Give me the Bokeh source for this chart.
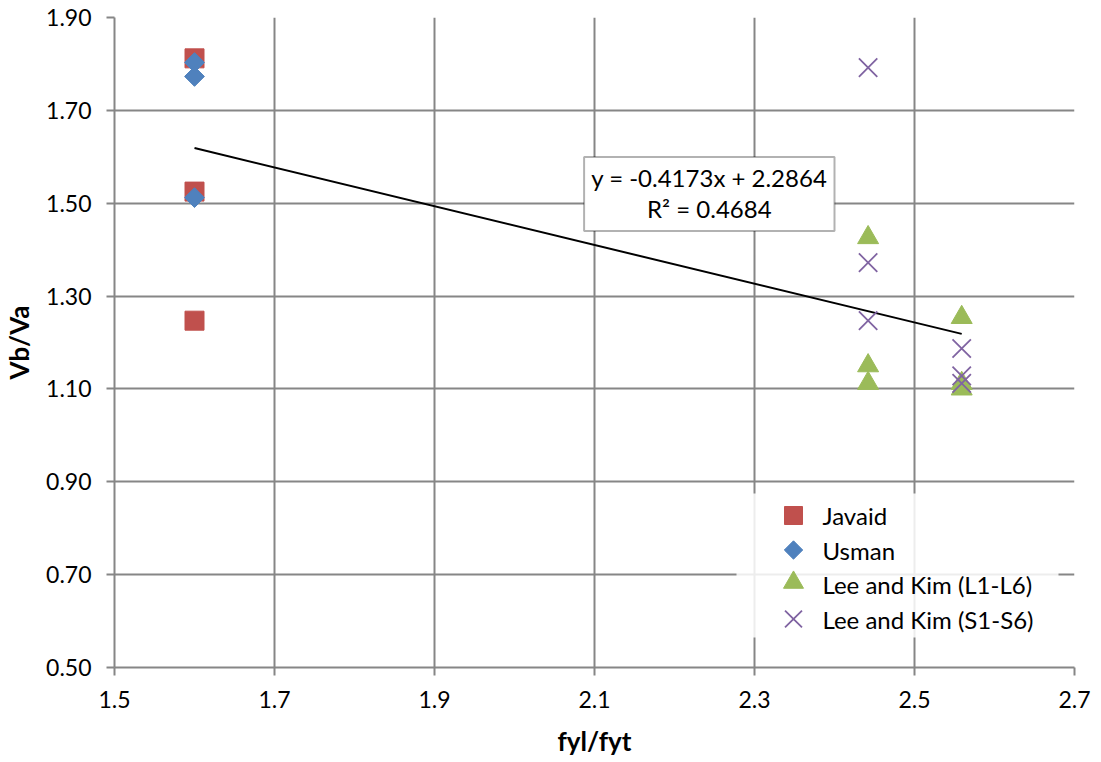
import math
from bokeh.plotting import figure
from bokeh.models import (Range1d, FixedTicker, Label, BoxAnnotation,
                          CustomJSTickFormatter)
from bokeh.embed import file_html
from bokeh.resources import INLINE

# ---- data ----
javaid_x = [1.6, 1.6, 1.6]
javaid_y = [1.812, 1.525, 1.247]
usman_x = [1.6, 1.6, 1.6]
usman_y = [1.803, 1.773, 1.512]
leeL_x = [2.442, 2.442, 2.442, 2.559, 2.559, 2.559]
leeL_y = [1.426, 1.150, 1.112, 1.254, 1.112, 1.100]
leeS_x = [2.442, 2.442, 2.442, 2.559, 2.559, 2.559]
leeS_y = [1.792, 1.372, 1.247, 1.187, 1.128, 1.112]
trend_slope = -0.4173
trend_intercept = 2.2864
trend_r2 = 0.4684
x_ticks = [1.5, 1.7, 1.9, 2.1, 2.3, 2.5, 2.7]
y_ticks = [0.5, 0.7, 0.9, 1.1, 1.3, 1.5, 1.7, 1.9]
series_names = ["Javaid", "Usman", "Lee and Kim (L1-L6)", "Lee and Kim (S1-S6)"]

FONT = "Lato"
GRID = "#868686"
C_J, C_U, C_L, C_S = "#C0504D", "#4F81BD", "#9BBB59", "#8064A2"
FW, FH = 960, 650

p = figure(frame_width=FW, frame_height=FH,
           x_range=Range1d(1.5, 2.7), y_range=Range1d(0.5, 1.9),
           output_backend="svg", toolbar_location=None,
           min_border_left=108, min_border_right=17, min_border_top=17,
           min_border_bottom=60)
p.outline_line_color = None
p.background_fill_color = "white"
p.border_fill_color = "white"

for ax in (p.xaxis[0], p.yaxis[0]):
    ax.axis_line_color = GRID
    ax.axis_line_width = 2
    ax.major_tick_line_color = GRID
    ax.major_tick_line_width = 2
    ax.major_tick_in = 0
    ax.major_tick_out = 8
    ax.minor_tick_line_color = None
    ax.major_label_text_font = FONT
    ax.major_label_text_font_size = "23px"
    ax.major_label_text_color = "black"
    ax.axis_label_text_font = FONT
    ax.axis_label_text_font_style = "bold"
    ax.axis_label_text_font_size = "26px"
    ax.axis_label_text_color = "black"

p.xaxis.ticker = FixedTicker(ticks=x_ticks)
p.yaxis.ticker = FixedTicker(ticks=y_ticks)
p.xaxis.formatter = CustomJSTickFormatter(code="return tick.toFixed(1);")
p.yaxis.formatter = CustomJSTickFormatter(code="return tick.toFixed(2);")
p.xaxis.axis_label = "fyl/fyt"
p.yaxis.axis_label = "Vb/Va"
p.xaxis.major_label_standoff = 15
p.yaxis.major_label_standoff = 15
p.xaxis.axis_label_standoff = 14
p.yaxis.axis_label_standoff = 8

p.xgrid.ticker = FixedTicker(ticks=x_ticks)
p.ygrid.ticker = FixedTicker(ticks=y_ticks)
for g in (p.xgrid[0], p.ygrid[0]):
    g.grid_line_color = GRID
    g.grid_line_width = 2

# ---- legend background (screen-pixel range of the frame), below the glyphs ----
p.extra_x_ranges["px"] = Range1d(0, FW)
p.extra_y_ranges["px"] = Range1d(0, FH)
LEG_LEFT, LEG_TOP, LEG_W, LEG_H = 622, 476, 322, 144   # px from frame left / top
ROW0, ROW_STEP = 22, 34.5
SYM_X, TXT_X = 57, 86
leg_bg = BoxAnnotation(left=LEG_LEFT, right=LEG_LEFT + LEG_W,
                       top=FH - LEG_TOP, bottom=FH - LEG_TOP - LEG_H,
                       x_range_name="px", y_range_name="px",
                       fill_color="white", fill_alpha=0.85, line_color=None,
                       level="underlay")
p.add_layout(leg_bg)

# trendline (from the fitted coefficients, over the data's x span)
all_x = javaid_x + usman_x + leeL_x + leeS_x
tx = [min(all_x), max(all_x)]
ty = [trend_slope * v + trend_intercept for v in tx]
p.line(tx, ty, line_color="black", line_width=2)

DIAMOND_ANGLE = math.pi / 4
p.scatter(javaid_x, javaid_y, marker="square", size=19,
          fill_color=C_J, line_color=C_J)
p.scatter(usman_x, usman_y, marker="square", size=14, angle=DIAMOND_ANGLE,
          fill_color=C_U, line_color=C_U)
p.scatter(leeL_x, leeL_y, marker="triangle", size=21,
          fill_color=C_L, line_color=C_L)
p.scatter(leeS_x, leeS_y, marker="x", size=26,
          line_color=C_S, line_width=1.8)

# legend symbols and labels
row_y = [FH - LEG_TOP - ROW0 - i * ROW_STEP for i in range(4)]
sym_x = LEG_LEFT + SYM_X
p.scatter([sym_x], [row_y[0]], marker="square", size=18, fill_color=C_J,
          line_color=C_J, x_range_name="px", y_range_name="px")
p.scatter([sym_x], [row_y[1]], marker="square", size=13, angle=DIAMOND_ANGLE,
          fill_color=C_U, line_color=C_U, x_range_name="px", y_range_name="px")
p.scatter([sym_x], [row_y[2] + 2], marker="triangle", size=20, fill_color=C_L,
          line_color=C_L, x_range_name="px", y_range_name="px")
p.scatter([sym_x], [row_y[3]], marker="x", size=24, line_color=C_S,
          line_width=1.8, x_range_name="px", y_range_name="px")
for name, yy in zip(series_names, row_y):
    p.add_layout(Label(x=LEG_LEFT + TXT_X, y=yy, text=name,
                       x_range_name="px", y_range_name="px",
                       text_align="left", text_baseline="middle",
                       text_font=FONT, text_font_size="24px",
                       text_color="black"))

# ---- equation box ----
box = BoxAnnotation(left=2.087, right=2.400, bottom=1.440, top=1.5995,
                    fill_color="white", fill_alpha=1.0,
                    line_color="black", line_width=2)
p.add_layout(box)
eq1 = Label(x=2.2435, y=1.556,
            text="y = %.4fx + %.4f" % (trend_slope, trend_intercept),
            text_align="center", text_baseline="middle",
            text_font=FONT, text_font_size="24px", text_color="black")
eq2 = Label(x=2.2435, y=1.488, text="R² = %.4f" % trend_r2,
            text_align="center", text_baseline="middle",
            text_font=FONT, text_font_size="24px", text_color="black")
p.add_layout(eq1)
p.add_layout(eq2)

open("out.html", "w").write(file_html(p, INLINE))
